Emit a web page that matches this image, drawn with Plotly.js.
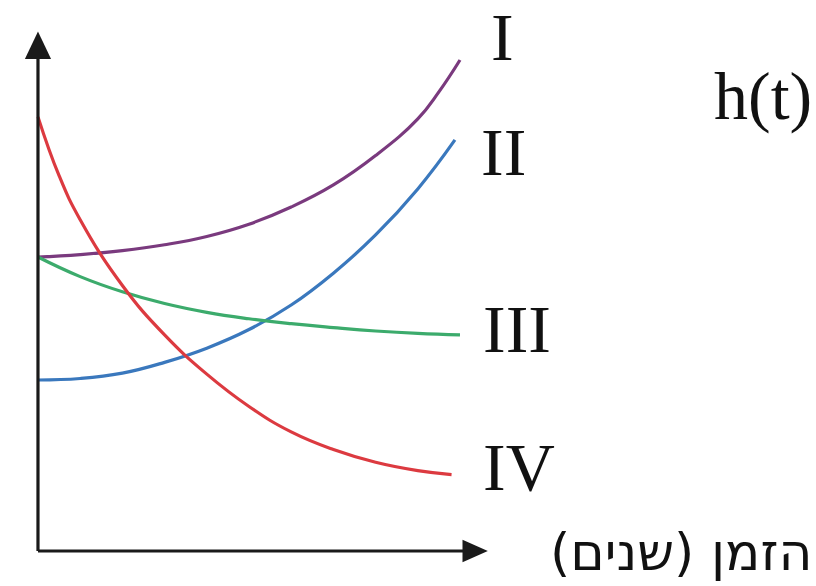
<!DOCTYPE html>
<html>
<head>
<meta charset="utf-8">
<script src="https://cdn.plot.ly/plotly-3.0.1.min.js"></script>
<style>
  html, body { margin: 0; padding: 0; background: #fff; }
  #chart { width: 816px; height: 586px; }
</style>
</head>
<body>
<div id="chart"></div>
<script>
// --- DATA (t in years, h in arbitrary units) ---
const seriesNames = ['I', 'II', 'III', 'IV'];

const tI = [0, 1, 2, 3, 4, 5, 6, 7, 8, 9, 9.5, 10];
const hI = [6.0, 6.05, 6.13, 6.25, 6.42, 6.67, 7.02, 7.47, 8.07, 8.82, 9.37, 10.02];

const tII = [0, 1, 2, 3, 4, 5, 6, 7, 8, 9, 9.88];
const hII = [3.49, 3.52, 3.63, 3.85, 4.14, 4.52, 5.02, 5.67, 6.45, 7.39, 8.39];

const tIII = [0, 1, 2, 3, 4, 5, 6, 7, 8, 9, 10];
const hIII = [6.0, 5.60, 5.29, 5.05, 4.87, 4.74, 4.64, 4.56, 4.49, 4.44, 4.41];

const tIV = [0, 0.5, 1, 2, 3, 4, 5, 6, 7, 8, 9, 9.8];
const hIV = [8.86, 7.66, 6.76, 5.42, 4.41, 3.61, 2.95, 2.43, 2.07, 1.81, 1.64, 1.56];

const yLabel = 'h(t)';
const xLabel = '\u200Fהזמן (שנים)\u200F';

// --- STYLE ---
const colors = ['#7a3a7e', '#3a78bd', '#3cab6c', '#dc3a40'];
const W = 816, H = 586;
const axisColor = '#1a1a1a';

// pixel -> paper helpers for text placement
const px = x => x / W;
const py = y => 1 - y / H;

const series = [[tI, hI], [tII, hII], [tIII, hIII], [tIV, hIV]];

const traces = series.map(([t, h], i) => ({
    x: t,
    y: h,
    name: seriesNames[i],
    type: 'scatter',
    mode: 'lines',
    line: { color: colors[i], width: 3.2, shape: 'spline', smoothing: 1.3 },
    hoverinfo: 'skip'
}));

// axes with arrowheads (drawn in data units: y axis at t=0, x axis at h=0)
const shapes = [
    { type: 'line', x0: 0, y0: 0, x1: 0, y1: 10.1, line: { color: axisColor, width: 3.2 } },
    { type: 'line', x0: 0, y0: 0, x1: 10.1, y1: 0, line: { color: axisColor, width: 3.2 } },
    { type: 'path', path: 'M -0.31 10.04 L 0.31 10.04 L 0 10.6 Z', fillcolor: axisColor, line: { width: 0 } },
    { type: 'path', path: 'M 10.06 0.23 L 10.06 -0.23 L 10.66 0 Z', fillcolor: axisColor, line: { width: 0 } }
];

const serif = { family: 'Liberation Serif, Times New Roman, serif', size: 68, color: '#111' };
const labelPos = [[489, 37], [479, 152], [481, 329], [481, 467]];

const annotations = seriesNames.map((name, i) => ({
    xref: 'paper', yref: 'paper',
    x: px(labelPos[i][0]), y: py(labelPos[i][1]),
    xanchor: 'left', yanchor: 'middle',
    text: name, showarrow: false, font: serif
}));

annotations.push({
    xref: 'paper', yref: 'paper',
    x: px(712), y: py(96),
    xanchor: 'left', yanchor: 'middle',
    text: yLabel, showarrow: false, font: serif
});

annotations.push({
    xref: 'paper', yref: 'paper',
    x: px(814), y: py(552),
    xanchor: 'right', yanchor: 'middle',
    text: xLabel, showarrow: false,
    font: { family: 'DejaVu Sans, Liberation Sans, sans-serif', size: 52, color: '#111' }
});

const layout = {
    width: W,
    height: H,
    margin: { l: 0, r: 0, t: 0, b: 0, pad: 0 },
    paper_bgcolor: '#fff',
    plot_bgcolor: '#fff',
    showlegend: false,
    xaxis: { range: [-0.900, 18.436], visible: false, fixedrange: true },
    yaxis: { range: [-0.714, 11.245], visible: false, fixedrange: true },
    shapes: shapes,
    annotations: annotations
};

Plotly.newPlot('chart', traces, layout, { displayModeBar: false, staticPlot: true });
</script>
</body>
</html>
